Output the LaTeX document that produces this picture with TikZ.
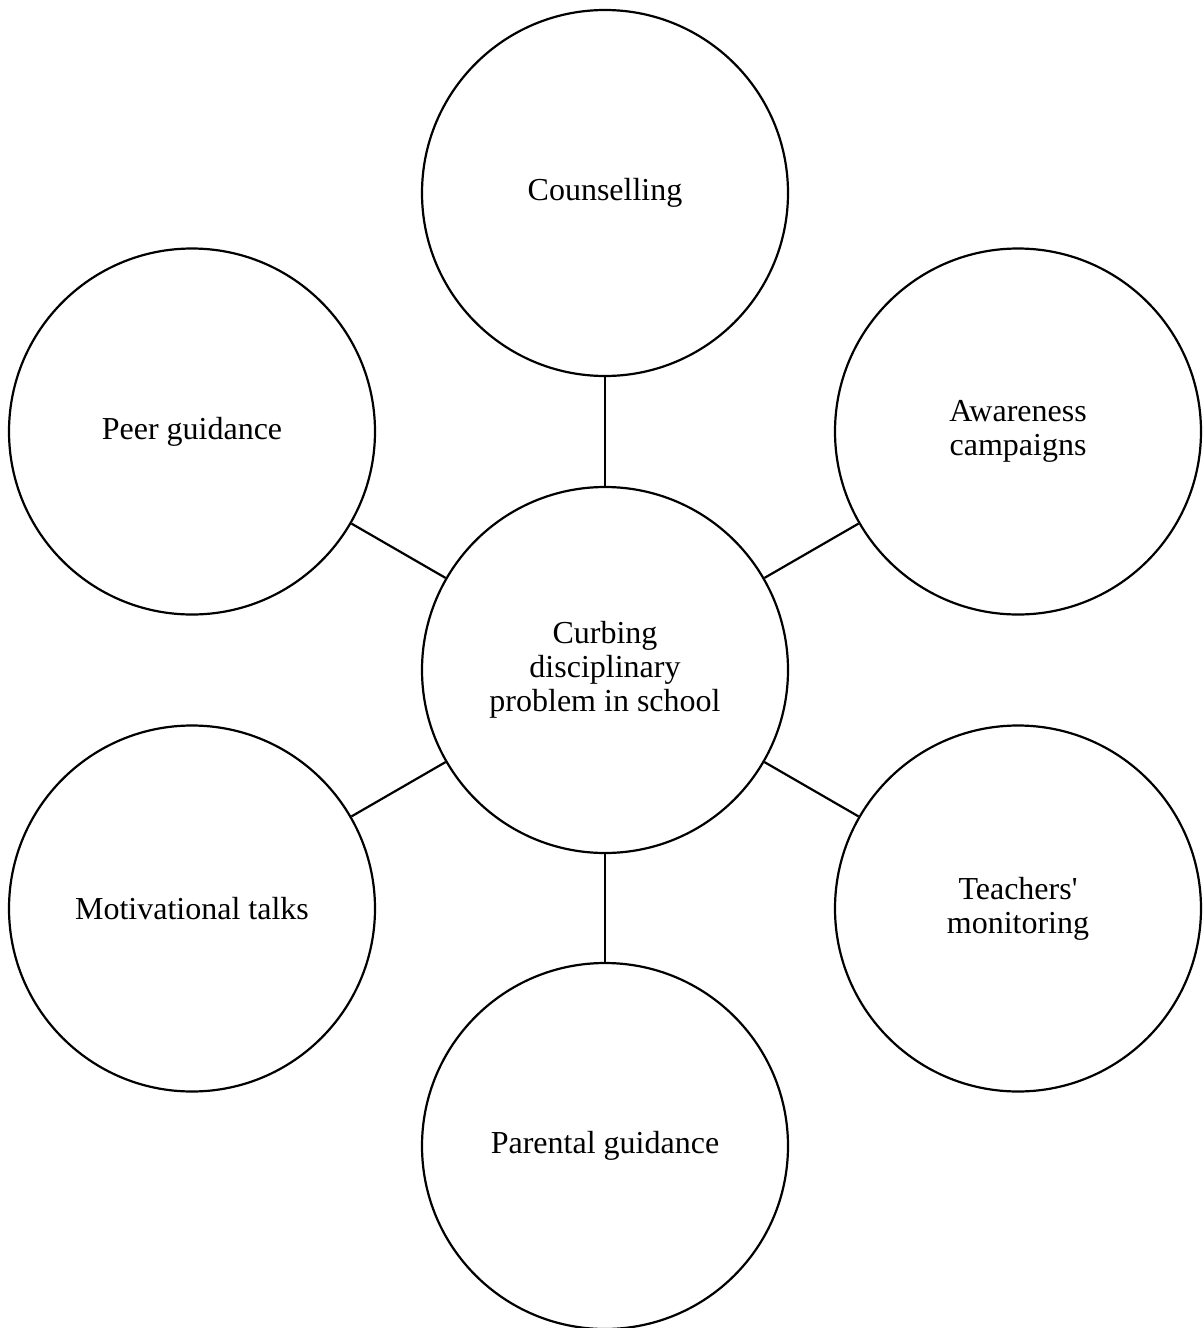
\documentclass[tikz,border=0pt]{standalone}
\usepackage{fontspec}
\setmainfont{Liberation Serif}[Ligatures=TeXOff]
\begin{document}
\begin{tikzpicture}[x=1pt,y=-1pt,
  bubble/.style={circle,draw,line width=2.2pt,minimum size=366pt,inner sep=0pt,align=center,
    font=\fontsize{32}{34}\selectfont},
  spoke/.style={line width=2.2pt}]
\useasboundingbox (0,0) rectangle (1203,1328);
\node[bubble] (c) at (605,670) {Curbing\\disciplinary\\problem in school};
\node[bubble] (t) at (605,193) {Counselling};
\node[bubble] (ur) at (1018,431.5) {Awareness\\campaigns};
\node[bubble] (lr) at (1018,908.5) {Teachers'\\monitoring};
\node[bubble] (b) at (605,1146) {Parental guidance};
\node[bubble] (ll) at (192,908.5) {Motivational talks};
\node[bubble] (ul) at (192,431.5) {Peer guidance};
\foreach \n in {t,ur,lr,b,ll,ul} \draw[spoke] (c) -- (\n);
\end{tikzpicture}
\end{document}
